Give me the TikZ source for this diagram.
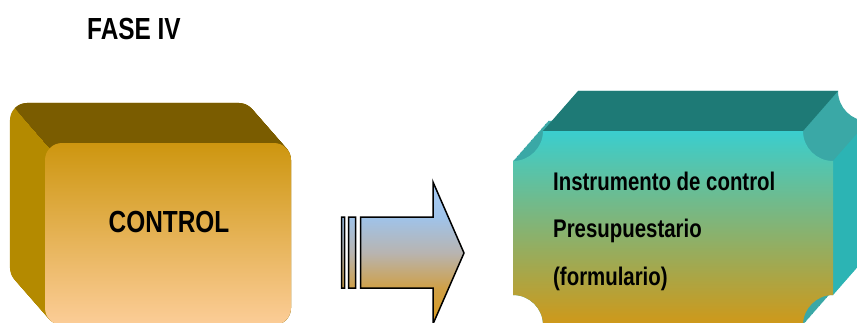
\documentclass[tikz,border=0pt]{standalone}
\usepackage{fontspec}
\newfontfamily\nfont{Liberation Sans}[FakeStretch=0.8]
\definecolor{ltop}{RGB}{122,92,0}
\definecolor{lside}{RGB}{180,138,0}
\definecolor{lfronttop}{RGB}{205,150,15}
\definecolor{lfrontbot}{RGB}{252,205,152}
\definecolor{rtop}{RGB}{30,122,118}
\definecolor{rside}{RGB}{44,180,180}
\definecolor{rconc}{RGB}{58,168,166}
\definecolor{rfronttop}{RGB}{58,206,206}
\definecolor{rfrontmid}{RGB}{138,182,152}
\definecolor{rfrontbot}{RGB}{208,152,24}
\definecolor{aone}{RGB}{218,155,28}
\definecolor{atwo}{RGB}{207,160,72}
\definecolor{athree}{RGB}{184,180,176}
\definecolor{afour}{RGB}{159,195,234}
\definecolor{afive}{RGB}{168,204,246}
\pgfdeclareverticalshading{arrowshade}{100bp}{color(0bp)=(aone); color(25bp)=(aone); color(37.7bp)=(atwo); color(50bp)=(athree); color(62.7bp)=(afour); color(75bp)=(afive); color(100bp)=(afive)}
\begin{document}
\begin{tikzpicture}[x=1pt,y=1pt,
  bigtxt/.style={font=\nfont\bfseries\fontsize{30.5}{36}\selectfont, inner sep=0pt, text=black},
  boxtxt/.style={font=\nfont\bfseries\fontsize{25.5}{30}\selectfont, inner sep=0pt, text=black}]
\useasboundingbox (0,0) rectangle (857,322);
\fill[white] (0,0) rectangle (857,322);
% ---------- left box ----------
\foreach \t in {0,0.02,...,1.001}
  \fill[lside, rounded corners=17pt, shift={(-35*\t,40*\t)}] (45,-3) rectangle (291,179);
\begin{scope}
  \clip (-55,294) -- (365,-186) -- (600,-186) -- (600,400) -- (-55,400) -- cycle;
  \foreach \t in {0,0.02,...,1.001}
    \fill[ltop, rounded corners=17pt, shift={(-35*\t,40*\t)}] (45,-3) rectangle (291,179);
\end{scope}
\shade[top color=lfronttop, bottom color=lfrontbot, rounded corners=17pt] (45,-3) rectangle (291,179);
\node[bigtxt, anchor=base] (ctrl) at (169,90) {CONTROL};
% ---------- arrow ----------
\shadedraw[shading=arrowshade, draw=black, line width=1.5pt, line join=miter]
  (341.5,34) rectangle (344.5,105)
  (348.5,34) rectangle (355.5,105)
  (360.5,34) -- (433,34) -- (433,-2) -- (464,69) -- (433,140) -- (433,105) -- (360.5,105) -- cycle;
% ---------- right box ----------
\foreach \t in {0,0.02,...,1.001}
  \fill[rconc, shift={(35*\t,40*\t)}]
    (543,191) -- (803,191) arc[start angle=180,end angle=270,radius=30]
    -- (833,27) arc[start angle=90,end angle=180,radius=30]
    -- (543,-3) arc[start angle=0,end angle=90,radius=30]
    -- (513,161) arc[start angle=270,end angle=360,radius=30] -- cycle;
\fill[rtop] (543,191) -- (803,191) -- (838,231) -- (578,231) -- cycle;
\fill[rside] (833,161) -- (868,201) -- (868,67) -- (833,27) -- cycle;
\shade[top color=rfronttop, middle color=rfrontmid, bottom color=rfrontbot]
    (543,191) -- (803,191) arc[start angle=180,end angle=270,radius=30]
    -- (833,27) arc[start angle=90,end angle=180,radius=30]
    -- (543,-3) arc[start angle=0,end angle=90,radius=30]
    -- (513,161) arc[start angle=270,end angle=360,radius=30] -- cycle;
\node[boxtxt, anchor=base west] (l1) at (553,132) {Instrumento de control};
\node[boxtxt, anchor=base west] (l2) at (553,85) {Presupuestario};
\node[boxtxt, anchor=base west] (l3) at (553,37) {(formulario)};
% ---------- title ----------
\node[bigtxt, anchor=base west] (fase) at (87,282) {FASE IV};
\end{tikzpicture}
\end{document}
